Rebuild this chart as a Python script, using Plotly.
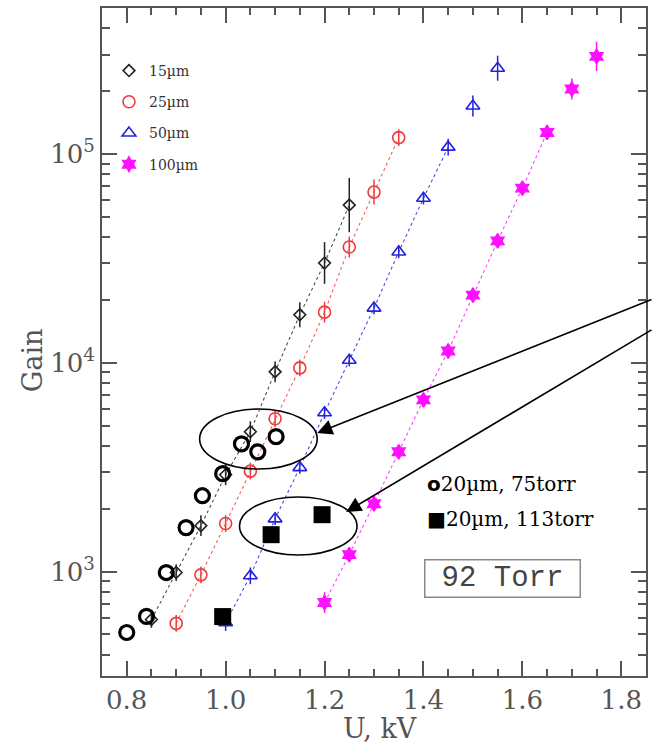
import plotly.graph_objects as go

# ---------------- data ----------------
u15 = [0.85, 0.90, 0.95, 1.00, 1.05, 1.10, 1.15, 1.20, 1.25]
g15 = [590, 990, 1660, 2910, 4680, 9060, 17000, 30100, 57000]
e15 = [0.04, 0.04, 0.05, 0.05, 0.05, 0.05, 0.06, 0.10, 0.13]

u25 = [0.90, 0.95, 1.00, 1.05, 1.10, 1.15, 1.20, 1.25, 1.30, 1.35]
g25 = [565, 965, 1700, 3030, 5400, 9460, 17500, 35900, 65800, 120000]
e25 = [0.04, 0.04, 0.04, 0.04, 0.04, 0.04, 0.05, 0.05, 0.06, 0.04]

u50 = [1.00, 1.05, 1.10, 1.15, 1.20, 1.25, 1.30, 1.35, 1.40, 1.45, 1.50, 1.55]
g50 = [570, 955, 1790, 3150, 5770, 10300, 18300, 34000, 61500, 108000, 170000, 258000]
e50 = [0.04, 0.04, 0.03, 0.03, 0.03, 0.03, 0.03, 0.03, 0.03, 0.04, 0.05, 0.06]

u100 = [1.20, 1.25, 1.30, 1.35, 1.40, 1.45, 1.50, 1.55, 1.60, 1.65, 1.70, 1.75]
g100 = [711, 1206, 2115, 3750, 6650, 11400, 21100, 38400, 68700, 127000, 205000, 294000]
e100 = [0.05, 0.03, 0.03, 0.03, 0.03, 0.03, 0.03, 0.03, 0.03, 0.03, 0.05, 0.07]

# number of points joined by each fit line
n_fit = {"15": 9, "25": 10, "50": 10, "100": 10}

u_75torr = [0.800, 0.840, 0.880, 0.920, 0.953, 0.994, 1.032, 1.065, 1.102]
g_75torr = [511, 610, 990, 1625, 2310, 2945, 4090, 3750, 4430]

u_113torr = [0.994, 1.092, 1.195]
g_113torr = [609, 1503, 1874]

x_ticks = [0.8, 1.0, 1.2, 1.4, 1.6, 1.8]
x_ticktext = ["0.8", "1.0", "1.2", "1.4", "1.6", "1.8"]
y_ticks = [1e3, 1e4, 1e5]
y_ticktext = ["10<sup>3</sup>", "10<sup>4</sup>", "10<sup>5</sup>"]

# ---------------- figure ----------------
W, H = 653, 743
ML, MR, MT, MB = 102, 5, 8, 67
PW, PH = W - ML - MR, H - MT - MB


def px(xp):
    return (xp - ML) / PW


def py(yp):
    return (H - MB - yp) / PH


SERIF = "DejaVu Serif"

fig = go.Figure()

series = [
    ("15", "15µm", u15, g15, e15, "#222222", "diamond-open", 9),
    ("25", "25µm", u25, g25, e25, "#f03a3a", "circle-open", 12),
    ("50", "50µm", u50, g50, e50, "#2222e0", "triangle-up-open", 12),
    ("100", "100µm", u100, g100, e100, "#ff10ff", "hexagram", 11),
]

for key, name, u, g, e, col, sym, sz in series:
    n = n_fit[key]
    fig.add_trace(go.Scatter(
        x=u[:n], y=g[:n], mode="lines", showlegend=False, hoverinfo="skip",
        line=dict(color=col, width=1.1, dash="dot"), opacity=0.8))
    up = [gi * (10 ** ei - 1) for gi, ei in zip(g, e)]
    dn = [gi * (1 - 10 ** (-ei)) for gi, ei in zip(g, e)]
    fig.add_trace(go.Scatter(
        x=u, y=g, mode="markers", name=name, legendgroup=key,
        marker=dict(symbol=sym, size=sz, color=col, line=dict(color=col, width=1.6)),
        error_y=dict(type="data", symmetric=False, array=up, arrayminus=dn,
                     color=col, thickness=1.5, width=0)))

fig.add_trace(go.Scatter(
    x=u_75torr, y=g_75torr, mode="markers", showlegend=False,
    marker=dict(symbol="circle-open", size=14, color="black", line=dict(color="black", width=3.2))))
fig.add_trace(go.Scatter(
    x=u_113torr, y=g_113torr, mode="markers", showlegend=False,
    marker=dict(symbol="square", size=17, color="black", line=dict(width=0))))

axis_common = dict(
    showline=True, linecolor="#555555", linewidth=2, mirror="allticks",
    ticks="inside", tickcolor="#555555", tickwidth=2,
    showgrid=False, zeroline=False,
    tickfont=dict(family=SERIF, size=26, color="#555555"),
)

fig.update_xaxes(
    range=[0.75, 1.85], tickvals=x_ticks, ticktext=x_ticktext, ticklen=15,
    minor=dict(dtick=0.05, tick0=0.8, ticks="inside", ticklen=7, tickcolor="#555555", tickwidth=1.5),
    **axis_common)
fig.update_yaxes(
    type="log", range=[2.5, 5.7], tickvals=y_ticks, ticktext=y_ticktext, ticklen=15,
    minor=dict(dtick="D1", ticks="inside", ticklen=8, tickcolor="#555555", tickwidth=1.5),
    **axis_common)

shapes = [
    dict(type="circle", xref="paper", yref="paper",
         x0=px(200), x1=px(318), y0=py(469), y1=py(409),
         line=dict(color="black", width=1.6)),
    dict(type="circle", xref="paper", yref="paper",
         x0=px(240), x1=px(358), y0=py(555), y1=py(497),
         line=dict(color="black", width=1.6)),
]

annotations = [
    dict(xref="paper", yref="paper", x=px(318), y=py(433), ax=337, ay=-134,
         axref="pixel", ayref="pixel", text="", showarrow=True,
         arrowhead=2, arrowsize=1.9, arrowwidth=1.6, arrowcolor="black"),
    dict(xref="paper", yref="paper", x=px(347), y=py(512), ax=308, ay=-183,
         axref="pixel", ayref="pixel", text="", showarrow=True,
         arrowhead=2, arrowsize=1.9, arrowwidth=1.6, arrowcolor="black"),
    dict(xref="paper", yref="paper", x=px(426), y=py(484), xanchor="left", yanchor="middle",
         text="<span style='font-family:DejaVu Sans'><b>o</b></span>20µm, 75torr",
         showarrow=False, font=dict(family=SERIF, size=20, color="black")),
    dict(xref="paper", yref="paper", x=px(426), y=py(519), xanchor="left", yanchor="middle",
         text="<span style='font-family:DejaVu Sans'>■</span>20µm, 113torr",
         showarrow=False, font=dict(family=SERIF, size=20, color="black")),
    dict(xref="paper", yref="paper", x=px(504), y=py(578), xanchor="center", yanchor="middle",
         text="92 Torr", showarrow=False, width=152, height=34, borderpad=1,
         bordercolor="#8a8a8a", borderwidth=1.5, bgcolor="white",
         font=dict(family="Liberation Mono", size=29, color="#444444")),
    dict(xref="paper", yref="paper", x=px(33), y=py(360), xanchor="center", yanchor="middle",
         text="Gain", textangle=-90, showarrow=False,
         font=dict(family=SERIF, size=27, color="#555555")),
    dict(xref="paper", yref="paper", x=px(381), y=py(728), xanchor="center", yanchor="middle",
         text="U, kV", showarrow=False,
         font=dict(family=SERIF, size=27, color="#555555")),
]

fig.update_layout(
    width=W, height=H,
    margin=dict(l=ML, r=MR, t=MT, b=MB),
    paper_bgcolor="white", plot_bgcolor="white",
    shapes=shapes, annotations=annotations,
    legend=dict(x=px(109), y=py(55), xanchor="left", yanchor="top",
                bgcolor="rgba(0,0,0,0)", tracegroupgap=10, itemwidth=30,
                font=dict(family=SERIF, size=14, color="#333333")),
    showlegend=True,
)

fig.write_html("out.html")
